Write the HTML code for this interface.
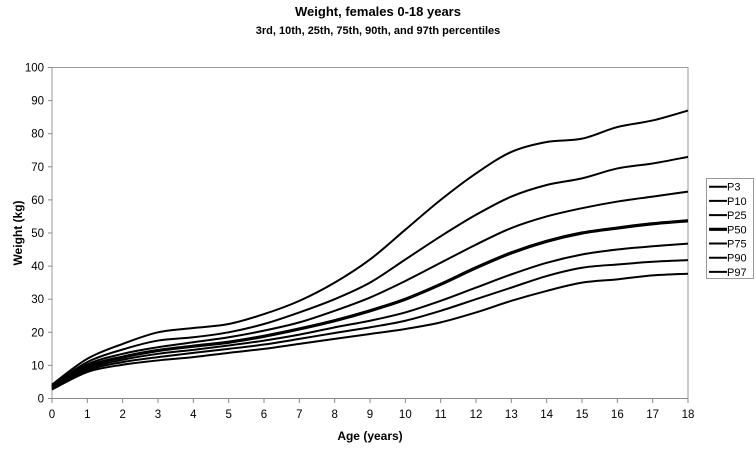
<!DOCTYPE html>
<html><head><meta charset="utf-8"><style>
body{margin:0;background:#fff;font-family:"Liberation Sans",Arial,sans-serif}
svg text{font-family:"Liberation Sans",Arial,sans-serif}
</style></head><body>
<svg id="chart" width="756" height="448" viewBox="0 0 756 448" xmlns="http://www.w3.org/2000/svg">
<text x="378" y="16" text-anchor="middle" font-size="13" font-weight="bold">Weight, females 0-18 years</text>
<text x="378" y="34" text-anchor="middle" font-size="11" font-weight="bold">3rd, 10th, 25th, 75th, 90th, and 97th percentiles</text>
<rect x="52" y="67.5" width="636" height="331" fill="none" stroke="#999" stroke-width="1"/>
<g id="axes"></g>
<g id="series"></g>
<text x="370" y="440" text-anchor="middle" font-size="12" font-weight="bold">Age (years)</text>
<text transform="translate(22,233) rotate(-90)" text-anchor="middle" font-size="12" font-weight="bold">Weight (kg)</text>
<g>
<rect x="706.5" y="178.5" width="47" height="100" fill="#fff" stroke="#999"/>
<g id="legend-entries"></g>
</g>
</svg>
<script>
const ages=[0,1,2,3,4,5,6,7,8,9,10,11,12,13,14,15,16,17,18];
const seriesNames=["P3","P10","P25","P50","P75","P90","P97"];
const p3=[2.7,8,10.2,11.5,12.5,13.8,15,16.5,18,19.5,21,23,26,29.5,32.5,35,36,37.2,37.7];
const p10=[3,8.5,11,12.5,13.8,15,16.3,18,19.8,21.5,23.5,26.5,30,33.5,37,39.5,40.5,41.3,41.8];
const p25=[3.2,9,11.7,13.5,14.7,16,17.5,19.3,21.5,23.5,26,29.5,33.5,37.5,41,43.5,45,46,46.8];
const p50=[3.4,9.6,12.5,14.5,15.8,17,18.8,21,23.5,26.5,30,34.5,39.5,44,47.5,50,51.5,52.8,53.7];
const p75=[3.7,10.3,13.5,15.5,17,18.5,20.5,23,26.5,30.5,35.5,41,46.5,51.5,55,57.5,59.5,61,62.5];
const p90=[3.9,11,14.8,17.5,18.5,20,22.5,26,30,35,42,49,55.5,61,64.5,66.5,69.5,71,73];
const p97=[4.2,12,16.5,20,21.3,22.5,25.5,29.5,35,42,51,60,68,74.5,77.5,78.5,82,84,87];
const yTicks=[0,10,20,30,40,50,60,70,80,90,100];
const xTicks=[0,1,2,3,4,5,6,7,8,9,10,11,12,13,14,15,16,17,18];

const NS="http://www.w3.org/2000/svg";
const X=a=>52+a*(636/18);
const Y=v=>398.5-v*3.31;
const axes=document.getElementById('axes');
function mk(tag,attrs,parent){const e=document.createElementNS(NS,tag);for(const k in attrs)e.setAttribute(k,attrs[k]);parent.appendChild(e);return e;}
mk('line',{x1:52,y1:398.5,x2:688,y2:398.5,stroke:'#888'},axes);
yTicks.forEach(t=>{
  const l=mk('line',{x1:48,x2:52,y1:Y(t),y2:Y(t),stroke:'#888'},axes);
  
  
  const tx=mk('text',{x:44,y:Y(t)+4,'text-anchor':'end','font-size':11.5},axes);
  tx.textContent=t;
  
  
});
xTicks.forEach(t=>{
  const l=mk('line',{x1:X(t),x2:X(t),y1:398.5,y2:403,stroke:'#888'},axes);
  
  
  const tx=mk('text',{x:X(t),y:418,'text-anchor':'middle','font-size':11.5},axes);
  tx.textContent=t;
  
  
});
function pathFor(vals){
  const pts=ages.map((a,i)=>[X(a),Y(vals[i])]);
  let d='M'+pts[0][0]+','+pts[0][1];
  for(let i=0;i<pts.length-1;i++){
    const p0=pts[Math.max(i-1,0)],p1=pts[i],p2=pts[i+1],p3_=pts[Math.min(i+2,pts.length-1)];
    const c1=[p1[0]+(p2[0]-p0[0])/6,p1[1]+(p2[1]-p0[1])/6];
    const c2=[p2[0]-(p3_[0]-p1[0])/6,p2[1]-(p3_[1]-p1[1])/6];
    d+=' C'+c1+' '+c2+' '+p2;
  }
  return d;
}
const allSeries=[p3,p10,p25,p50,p75,p90,p97];
const sg=document.getElementById('series');
allSeries.forEach((s,i)=>{
  const p=mk('path',{d:pathFor(s),fill:'none',stroke:'#000','stroke-width':seriesNames[i]==='P50'?3.2:2},sg);
  
  
});
const lg=document.getElementById('legend-entries');
seriesNames.forEach((n,i)=>{
  const y=186.7+i*14.2;
  const l=mk('line',{x1:709,x2:727,y1:y,y2:y,stroke:'#000','stroke-width':n==='P50'?3.2:2},lg);
  
  
  const t=mk('text',{x:727,y:y+4,'font-size':11},lg);
  t.textContent=n;
  
  
});
</script>
</body></html>
